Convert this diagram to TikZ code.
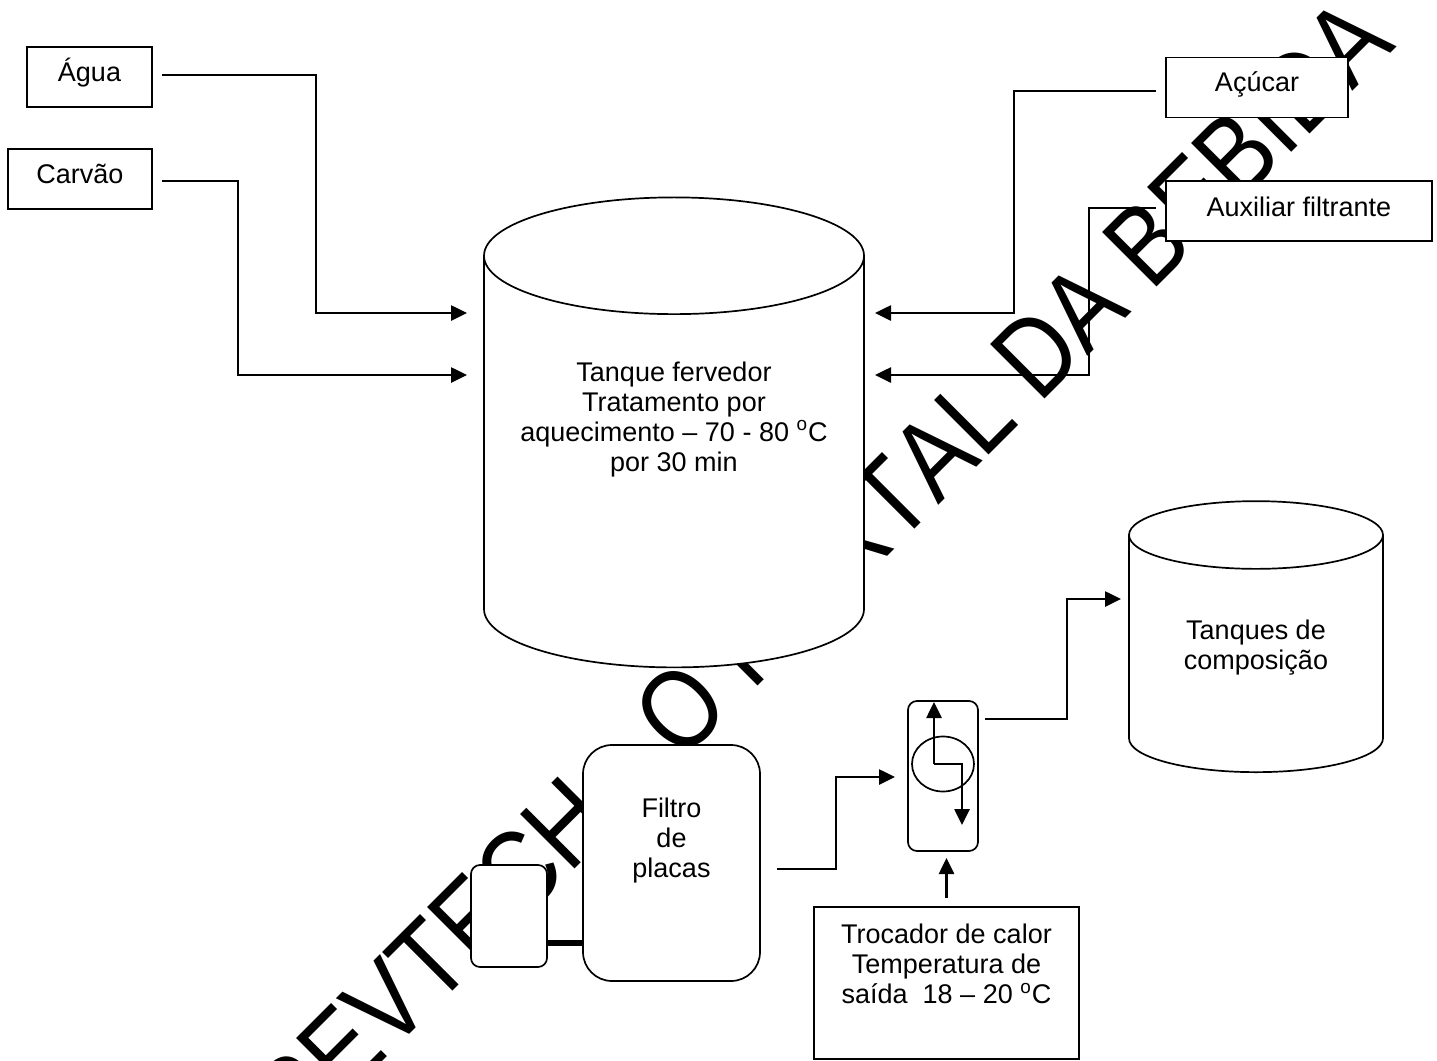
\documentclass[tikz,border=0pt]{standalone}
\usepackage{fontspec}
\setmainfont{Liberation Sans}
\newfontfamily\markfont[Kerning=Off]{Liberation Sans}
\usepackage{tikz}
\usetikzlibrary{arrows.meta,shapes.geometric}
\tikzset{
  mark text/.style={font=\markfont\fontsize{56}{56}\selectfont,rotate=45,xscale=.848,transform shape,inner sep=0pt},
  plain box/.style={draw,fill=white,line width=0.85pt,inner sep=0pt,outer sep=0pt,align=center,font=\fontsize{13.5}{15}\selectfont},
  round box/.style={plain box,rounded corners=14.5pt},
  small box/.style={plain box,rounded corners=4.5pt},
  tank/.style={plain box,cylinder,shape border rotate=90},
  feed/.style={line width=1.3pt,-{Triangle[length=8pt,width=7.5pt]},shorten <=5pt},
  feedline/.style={line width=1.3pt,-{Triangle[length=8pt,width=7.5pt]}},
}
\begin{document}
\begin{tikzpicture}[x=0.5pt,y=-0.5pt]
  \useasboundingbox (0,0) rectangle (1437,1061);
  \node[mark text,anchor=base east](watermark) at (1398,46){REVTECH\hspace{37pt} O PORTAL DA BEBIDA};
  \node[plain box,minimum width=62.5pt,minimum height=30pt,text depth=7pt](agua) at (89.5,77){\'Agua};
  \node[plain box,minimum width=72pt,minimum height=30pt,text depth=5pt](carvao) at (80,179){Carv\~ao};
  \node[plain box,minimum width=91pt,minimum height=30pt,text depth=5.5pt](acucar) at (1257,87.5){A\c{c}\'ucar};
  \node[plain box,minimum width=133pt,minimum height=30pt,text depth=4pt](auxiliar) at (1299,211){Auxiliar filtrante};
  \node[tank,aspect=.38,minimum width=190pt,minimum height=235pt,text depth=45.5pt](fervedor) at (674,462){Tanque fervedor\\Tratamento por\\aquecimento -- 70 - 80 \textsuperscript{o}C\\por 30 min};
  \node[tank,aspect=.47,minimum width=127pt,minimum height=135.5pt,text depth=9pt](composicao) at (1256,654){Tanques de\\composi\c{c}\~ao};
  \node[round box,minimum width=88.5pt,minimum height=118pt,text depth=25pt](filtro) at (671.5,863){Filtro\\de\\placas};
  \node[small box,minimum width=38pt,minimum height=51pt](bomba) at (509,916){};
  \node[small box,minimum width=35pt,minimum height=75pt](trocador) at (943,776){};
  \node[draw,ellipse,line width=0.85pt,minimum width=31pt,minimum height=27.5pt,inner sep=0pt](nucleo) at (943,764){};
  \node[plain box,minimum width=132.5pt,minimum height=76pt,text depth=19pt](calor) at (946.5,983){Trocador de calor\\Temperatura de\\sa\'ida\ \ 18 -- 20 \textsuperscript{o}C};
  \coordinate (agua in) at (467,313);
  \coordinate (carvao in) at (467,375);
  \coordinate (acucar in) at (875,313);
  \coordinate (auxiliar in) at (875,375);
  \coordinate (filtro out) at (760,869);
  \coordinate (trocador in) at (895,777);
  \coordinate (trocador out) at (978,719);
  \coordinate (composicao in) at (1121,599);
  \coordinate (nucleo turn) at (934,764);
  \coordinate (quente top) at (934,702);
  \coordinate (quente end) at (962,825);
  \draw[feed] (agua.east |- 0,75) -| (316,313) -- (agua in);
  \draw[feed] (carvao.east |- 0,181) -| (238,375) -- (carvao in);
  \draw[feed] (acucar.west |- 0,91) -| (1014,313) -- (acucar in);
  \draw[feed] (auxiliar.west |- 0,208) -| (1089,375) -- (auxiliar in);
  \draw[feed,shorten <=8.5pt] (filtro out) -| (836,777) -- (trocador in);
  \draw[feed,shorten <=3.5pt] (trocador out) -| (1067,599) -- (composicao in);
  \draw[line width=3.3pt] (bomba.east |- 0,943) -- (filtro.west |- 0,943);
  \draw[feedline] (nucleo turn) -- (quente top);
  \draw[feedline] (nucleo turn) -| (quente end);
  \draw[feedline,shorten <=4.5pt,shorten >=3.5pt] (calor.north) -- (calor.north |- trocador.south);
\end{tikzpicture}
\end{document}
